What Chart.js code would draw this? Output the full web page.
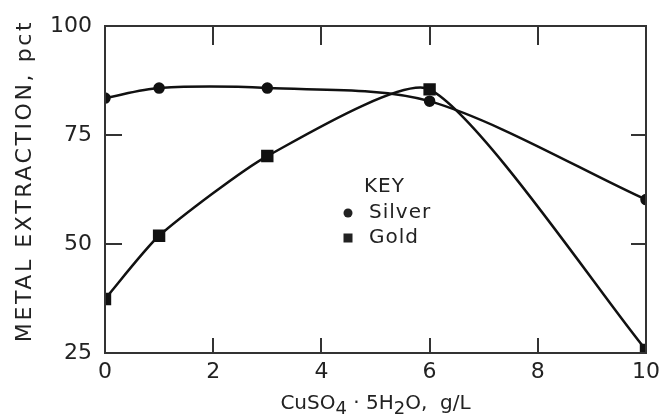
<!DOCTYPE html>
<html>
<head>
<meta charset="utf-8">
<script src="https://cdn.jsdelivr.net/npm/chart.js@4.4.1/dist/chart.umd.min.js"></script>
<style>
  html, body { margin: 0; background: #fff; }
</style>
</head>
<body>
<canvas id="chart" width="666" height="416"></canvas>
<script>
// values
const xValues = [0, 1, 3, 6, 10];
const silver = [83.5, 85.8, 85.8, 82.8, 60.2];
const gold = [37.4, 51.9, 70.2, 85.5, 25.7];
const xTickMarks = [2, 4, 6, 8];
const yTickMarks = [50, 75];
const yTitle = "METAL EXTRACTION, pct";
// [text, isSubscript]
const xTitle = [["CuSO", 0], ["4", 1], [" · 5H", 0], ["2", 1], ["O,  g/L", 0]];

const ink = "#222";
const font = "'DejaVu Sans', sans-serif";

function points(ys) {
  return xValues.map((x, i) => ({ x: x, y: ys[i] }));
}

// box round the plot plus inward ticks on all four sides
const framePlugin = {
  id: "frame",
  afterDraw(chart) {
    const ctx = chart.ctx;
    const a = chart.chartArea;
    const xs = chart.scales.x, ys = chart.scales.y;
    ctx.save();
    ctx.fillStyle = "#333";
    const L = Math.round(a.left), R = Math.round(a.right);
    const T = Math.round(a.top), B = Math.round(a.bottom);
    ctx.fillRect(L - 1, T - 1, R - L + 2, 2);
    ctx.fillRect(L - 1, B - 1, R - L + 2, 2);
    ctx.fillRect(L - 1, T - 1, 2, B - T + 2);
    ctx.fillRect(R - 1, T - 1, 2, B - T + 2);
    for (const v of xTickMarks) {
      const px = Math.round(xs.getPixelForValue(v));
      ctx.fillRect(px - 1, T, 2, 19);
      ctx.fillRect(px - 1, B - 15, 2, 15);
    }
    for (const v of yTickMarks) {
      const py = Math.round(ys.getPixelForValue(v));
      ctx.fillRect(L, py - 1, 17, 2);
      ctx.fillRect(R - 15, py - 1, 15, 2);
    }
    ctx.restore();
  }
};

// axis titles, drawn by hand for the letter spacing and subscripts
const titlePlugin = {
  id: "titles",
  afterDraw(chart) {
    const { ctx, chartArea: a } = chart;
    ctx.save();
    ctx.fillStyle = ink;
    ctx.textBaseline = "middle";

    ctx.save();
    ctx.translate(25, 181);
    ctx.rotate(-Math.PI / 2);
    ctx.font = "22px " + font;
    ctx.letterSpacing = "2.6px";
    ctx.textAlign = "center";
    ctx.fillText(yTitle, 0, 0);
    ctx.restore();

    ctx.textAlign = "left";
    ctx.textBaseline = "alphabetic";
    const big = "20px " + font, small = "18px " + font;
    let w = 0;
    xTitle.forEach(([t, sub]) => { ctx.font = sub ? small : big; w += ctx.measureText(t).width; });
    let x = (a.left + a.right) / 2 - w / 2;
    const base = 409;
    xTitle.forEach(([t, sub]) => {
      ctx.font = sub ? small : big;
      ctx.fillText(t, x, sub ? base + 5 : base);
      x += ctx.measureText(t).width;
    });
    ctx.restore();
  }
};

// the "KEY" box inside the plot
const keyPlugin = {
  id: "key",
  afterDraw(chart) {
    const { ctx } = chart;
    const left = 348;
    ctx.save();
    ctx.fillStyle = ink;
    ctx.font = "20px " + font;
    ctx.textBaseline = "middle";
    ctx.textAlign = "left";
    ctx.letterSpacing = "1px";
    ctx.fillText("KEY", left + 16, 187);
    ctx.fillText("Silver", left + 21, 213);
    ctx.fillText("Gold", left + 21, 238);
    ctx.beginPath();
    ctx.arc(left, 213, 4.5, 0, Math.PI * 2);
    ctx.fill();
    ctx.fillRect(left - 4.5, 233.5, 9, 9);
    ctx.restore();
  }
};

const chart = new Chart(document.getElementById("chart"), {
  type: "line",
  data: {
    datasets: [
      {
        label: "Silver",
        data: points(silver),
        borderColor: "#111",
        backgroundColor: "#111",
        borderWidth: 2.5,
        pointStyle: "circle",
        pointRadius: 4.5,
        tension: 0.3
      },
      {
        label: "Gold",
        data: points(gold),
        borderColor: "#111",
        backgroundColor: "#111",
        borderWidth: 2.5,
        pointStyle: "rect",
        pointRadius: 7,
        tension: 0.2
      }
    ]
  },
  options: {
    responsive: false,
    animation: false,
    devicePixelRatio: 1,
    layout: { padding: { top: 21, right: 15, left: 0, bottom: 0 } },
    plugins: { legend: { display: false }, tooltip: { enabled: false } },
    scales: {
      x: {
        type: "linear",
        min: 0,
        max: 10,
        ticks: { stepSize: 2, padding: 6, color: ink, font: { family: font, size: 22 } },
        grid: { display: false, drawTicks: false },
        border: { display: false },
        afterFit(s) { s.height = 63; }
      },
      y: {
        min: 25,
        max: 100,
        ticks: { stepSize: 25, padding: 13, color: ink, font: { family: font, size: 22 } },
        grid: { display: false, drawTicks: false },
        border: { display: false },
        afterFit(s) { s.width = 105; }
      }
    }
  },
  plugins: [framePlugin, titlePlugin, keyPlugin]
});

// nudge the padding so the plot box lands where the figure has it
const area = chart.chartArea;
const pad = chart.options.layout.padding;
pad.top = Math.max(0, pad.top + 21 - area.top);
pad.right = Math.max(0, pad.right + area.right - 651);
chart.update();
</script>
</body>
</html>
